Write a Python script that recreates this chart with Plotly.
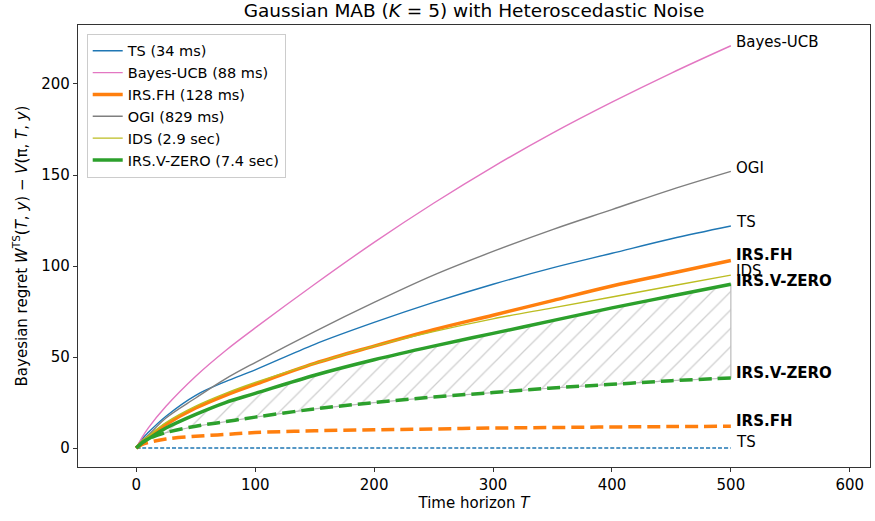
import plotly.graph_objects as go

T = [0, 5, 10, 25, 50, 75, 100, 150, 200, 250, 300, 350, 400, 450, 500]

ts = [0, 5, 8.5, 17.5, 29, 36.5, 43, 57, 69, 80, 90, 99, 107, 115, 122]
bayes_ucb = [0, 6, 11, 23, 39.5, 53.5, 66, 90, 113, 134.5, 154.5, 173, 190, 206, 221]
irs_fh = [0, 3.5, 6, 13, 22, 29, 35, 46.5, 56, 65, 73, 81, 89, 96, 103]
ogi = [0, 4, 7, 16.5, 27.5, 38, 47, 64, 80, 95, 108, 120, 131, 142, 152]
ids = [0, 4, 6.5, 14, 23, 30, 36, 46.5, 56, 64, 71, 77, 83, 89, 95]
irs_vzero = [0, 3, 5, 11, 18.5, 25, 30, 40, 48.5, 56, 63, 70, 77, 83.5, 90]

ts_lower = [0] * len(T)
irs_fh_lower = [0, 2, 3, 5, 6.5, 7.5, 8.5, 9.5, 10, 10.5, 11, 11.3, 11.6, 11.8, 12]
irs_vzero_lower = [0, 3, 5, 8.5, 12, 14.5, 17, 21.5, 25, 28, 30.5, 33, 35, 37, 38.5]

legend_names = ["TS (34 ms)", "Bayes-UCB (88 ms)", "IRS.FH (128 ms)", "OGI (829 ms)",
                "IDS (2.9 sec)", "IRS.V-ZERO (7.4 sec)"]

C_TS, C_UCB, C_FH, C_OGI, C_IDS, C_VZ = "#1f77b4", "#e377c2", "#ff7f0e", "#7f7f7f", "#bcbd22", "#2ca02c"

fig = go.Figure()

# hatched region between IRS.V-ZERO upper and lower
fig.add_trace(go.Scatter(
    x=T + T[::-1], y=irs_vzero + irs_vzero_lower[::-1],
    fill="toself", mode="lines",
    line=dict(color="#bbbbbb", width=1.2),
    fillcolor="rgba(0,0,0,0)",
    fillpattern=dict(shape="/", fgcolor="#a0a0a0", bgcolor="rgba(255,255,255,0)", size=13, solidity=0.1),
    showlegend=False, hoverinfo="skip"))

# lower (dashed) curves
fig.add_trace(go.Scatter(x=T, y=ts_lower, mode="lines", line=dict(color=C_TS, width=1.4, dash="4px,2px"),
                         showlegend=False, line_shape="spline"))
fig.add_trace(go.Scatter(x=T, y=irs_fh_lower, mode="lines", line=dict(color=C_FH, width=3.5, dash="13px,6px"),
                         showlegend=False, line_shape="spline"))
fig.add_trace(go.Scatter(x=T, y=irs_vzero_lower, mode="lines", line=dict(color=C_VZ, width=3.5, dash="13px,6px"),
                         showlegend=False, line_shape="spline"))

series = [(ts, C_TS, 1.4), (bayes_ucb, C_UCB, 1.4), (irs_fh, C_FH, 3.5),
          (ogi, C_OGI, 1.4), (ids, C_IDS, 1.4), (irs_vzero, C_VZ, 3.5)]
for (vals, col, w), name in zip(series, legend_names):
    fig.add_trace(go.Scatter(x=T, y=vals, mode="lines", name=name,
                             line=dict(color=col, width=w), line_shape="spline"))

# right-side labels
labels = [("Bayes-UCB", bayes_ucb[-1] + 2, False), ("OGI", ogi[-1] + 2, False), ("TS", ts[-1] + 2, False),
          ("IRS.FH", irs_fh[-1] + 3, True), ("IDS", ids[-1] + 2, False), ("IRS.V-ZERO", irs_vzero[-1] + 2, True),
          ("IRS.V-ZERO", irs_vzero_lower[-1] + 3, True), ("IRS.FH", irs_fh_lower[-1] + 3, True),
          ("TS", ts_lower[-1] + 3.5, False)]
for txt, yv, bold in labels:
    fig.add_annotation(x=T[-1] + 3, y=yv, text=f"<b>{txt}</b>" if bold else txt, showarrow=False,
                       xanchor="left", yanchor="middle", font=dict(size=15, color="black"))

axis_common = dict(showline=True, linecolor="#333333", linewidth=1.2, mirror=True, ticks="outside",
                   ticklen=4, tickcolor="#333333", showgrid=False, zeroline=False, automargin=False,
                   tickfont=dict(size=15, color="black"))

fig.update_layout(
    width=875, height=521,
    margin=dict(l=78, r=5, t=25, b=54),
    paper_bgcolor="white", plot_bgcolor="white",
    font=dict(family="DejaVu Sans", size=15, color="black"),
    title=dict(text="Gaussian MAB (<i>K</i> = 5) with Heteroscedastic Noise", x=0.5, xanchor="center",
               xref="paper", yref="container", y=1 - 11 / 521, yanchor="middle", font=dict(size=18.5)),
    xaxis=dict(range=[-49, 617], tickvals=[0, 100, 200, 300, 400, 500, 600],
               title=dict(text="Time horizon <i>T</i>", standoff=4, font=dict(size=15)), **axis_common),
    yaxis=dict(range=[-10.4, 232.4], tickvals=[0, 50, 100, 150, 200],
               title=dict(text="Bayesian regret <i>W</i><sup>TS</sup>(<i>T</i>, <i>y</i>) − <i>V</i>(π, <i>T</i>, <i>y</i>)",
                          standoff=10, font=dict(size=15)), **axis_common),
    legend=dict(x=0.011, y=0.98, xanchor="left", yanchor="top", bgcolor="rgba(255,255,255,0.85)",
                bordercolor="#cccccc", borderwidth=1, font=dict(size=14.5), tracegroupgap=0, itemwidth=30),
)

fig.write_html("out.html", config={"displayModeBar": False},
               post_script="document.body.style.margin='0px';")
